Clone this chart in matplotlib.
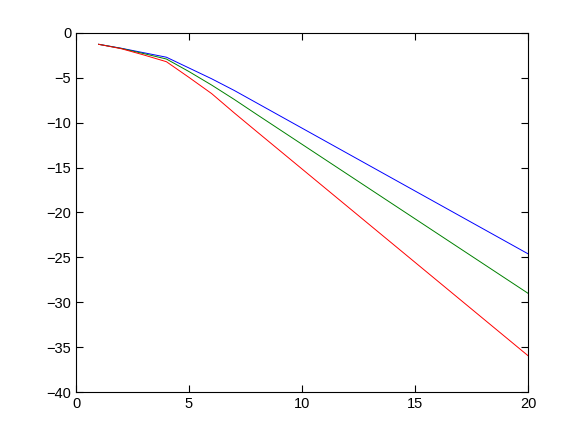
import matplotlib
matplotlib.use("Agg")
import matplotlib.pyplot as plt

x = list(range(1, 21))

blue = [-1.26, -1.70, -2.20, -2.70, -3.90, -5.10, -6.40, -7.80, -9.20, -10.60,
        -12.00, -13.40, -14.80, -16.20, -17.60, -19.00, -20.40, -21.80, -23.20, -24.60]
green = [-1.26, -1.72, -2.30, -2.90, -4.30, -5.80, -7.40, -9.08, -10.74, -12.40,
         -14.06, -15.72, -17.38, -19.04, -20.70, -22.36, -24.02, -25.68, -27.34, -29.00]
red = [-1.26, -1.75, -2.45, -3.20, -4.95, -6.75, -8.90, -10.99, -13.07, -15.15,
       -17.23, -19.31, -21.39, -23.47, -25.55, -27.63, -29.71, -31.79, -33.87, -35.95]

plt.rcParams["font.family"] = ["Liberation Sans", "DejaVu Sans"]

fig = plt.figure(figsize=(5.82, 4.38), dpi=100)
ax = fig.add_axes([0.1306, 0.105, 0.7766, 0.8197])

ax.plot(x, blue, color=(0, 0, 1), lw=0.7)
ax.plot(x, green, color=(0, 0.5, 0), lw=0.7)
ax.plot(x, red, color=(1, 0, 0), lw=0.7)

ax.set_xlim(0, 20)
ax.set_ylim(-40, 0)
ax.set_xticks([0, 5, 10, 15, 20])
ax.set_yticks(range(-40, 1, 5))
ax.tick_params(direction="in", top=True, right=True, labelsize=10.5, length=5, width=0.8)
for s in ax.spines.values():
    s.set_linewidth(0.8)

fig.savefig("out.png", dpi=100)
